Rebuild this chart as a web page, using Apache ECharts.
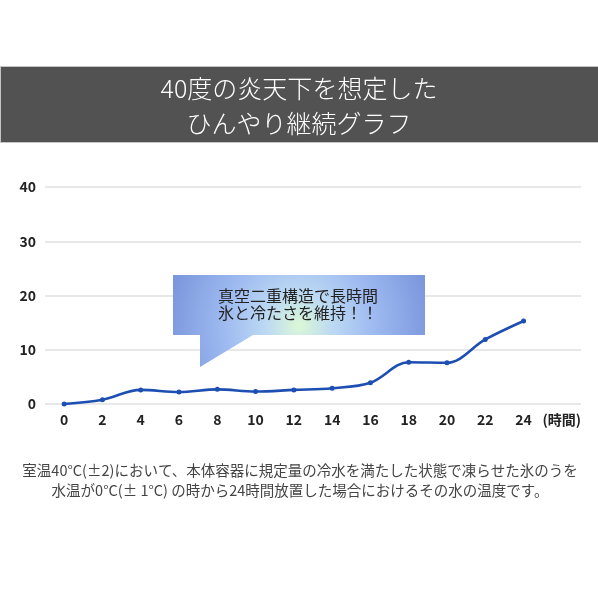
<!DOCTYPE html>
<html><head><meta charset="utf-8">
<script src="https://cdn.jsdelivr.net/npm/echarts@6/dist/echarts.min.js"></script>
<style>html,body{margin:0;padding:0;background:#fff}#c{width:598px;height:598px}</style>
</head><body><div id="c"></div>
<script>
const hours = ['0','2','4','6','8','10','12','14','16','18','20','22','24','(時間)'];
const waterTemp = [0, 0.8, 2.6, 2.2, 2.7, 2.3, 2.6, 2.9, 3.9, 7.7, 7.6, 11.9, 15.3];
const yTicks = { min: 0, max: 40, interval: 10 };
const titleText = '40度の炎天下を想定した\nひんやり継続グラフ';
const calloutText = '真空二重構造で長時間\n氷と冷たさを維持！！';
const noteText = '室温40°C(±2)において、本体容器に規定量の冷水を満たした状態で凍らせた氷のうを\n水温が0°C(± 1°C) の時から24時間放置した場合におけるその水の温度です。';

const chart = echarts.init(document.getElementById('c'), null, {renderer: 'canvas'});
chart.setOption({
  animation: false,
  backgroundColor: '#fff',
  grid: {left: 45, right: 17, top: 187, bottom: 194, containLabel: false},
  xAxis: {
    type: 'category', data: hours, boundaryGap: true,
    axisLine: {show: false}, axisTick: {show: false},
    axisLabel: {color: '#222', fontSize: 14, fontWeight: 'bold', margin: 9, fontFamily: 'Noto Sans CJK JP', interval: 0}
  },
  yAxis: {
    type: 'value', min: yTicks.min, max: yTicks.max, interval: yTicks.interval,
    axisLine: {show: false}, axisTick: {show: false},
    axisLabel: {color: '#222', fontSize: 14, fontWeight: 'bold', margin: 9, fontFamily: 'Noto Sans CJK JP'},
    splitLine: {lineStyle: {color: '#e0e0e0', width: 1.6}}
  },
  series: [{
    type: 'line', data: waterTemp, smooth: 0.35,
    symbol: 'circle', symbolSize: 5,
    lineStyle: {color: '#1d4fb3', width: 2.6},
    itemStyle: {color: '#1d4fb3'}
  }],
  graphic: [
    {type: 'rect', left: 0, top: 66, shape: {width: 598, height: 76},
     style: {fill: '#525252', stroke: '#c4c4c4', lineWidth: 1}, z: -1},
    {type: 'text', z: 5, x: 299, y: 105.5,
     style: {text: titleText, fill: '#fff', fontSize: 25, lineHeight: 35, align: 'center', verticalAlign: 'middle',
             fontFamily: 'Noto Sans CJK JP', fontWeight: 300}},
    {type: 'polygon', z: 10,
     shape: {points: [[173,275],[425,275],[425,335],[253,335],[200,367],[200,335],[173,335]]},
     style: {fill: new echarts.graphic.RadialGradient(0.5, 0.55, 1.45, [
       {offset: 0, color: '#dcf8d6'},
       {offset: 0.25, color: '#bcd9f3'},
       {offset: 0.55, color: '#9fbbf1'},
       {offset: 1, color: '#7b96dc'}
     ])}},
    {type: 'text', z: 11, left: 218, top: 287,
     style: {text: calloutText, fill: '#222', fontSize: 16, lineHeight: 17, fontFamily: 'Noto Sans CJK JP'}},
    {type: 'text', z: 5, x: 300, y: 480,
     style: {text: noteText, fill: '#444', fontSize: 14.5, lineHeight: 20, align: 'center', verticalAlign: 'middle',
             fontFamily: 'Noto Sans CJK JP'}}
  ]
});
</script></body></html>
